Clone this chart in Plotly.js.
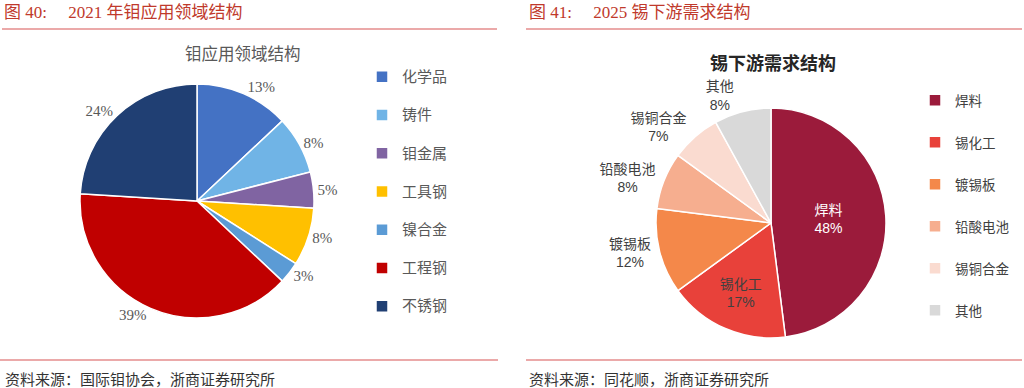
<!DOCTYPE html>
<html>
<head>
<meta charset="utf-8">
<script src="https://cdn.plot.ly/plotly-3.0.1.min.js"></script>
<style>html,body{margin:0;padding:0;background:#fff;}#chart{width:1024px;height:388px;}</style>
</head>
<body>
<div id="chart"></div>
<script>
// ---- Data: left chart (钼应用领域结构, 2021) ----
const moCategories = ['化学品', '铸件', '钼金属', '工具钢', '镍合金', '工程钢', '不锈钢'];
const moValues = [13, 8, 5, 8, 3, 39, 24];
const moColors = ['#4472C4', '#70B4E6', '#8064A2', '#FFC000', '#5B9BD5', '#C00000', '#203F73'];

// ---- Data: right chart (锡下游需求结构, 2025) ----
const snCategories = ['焊料', '锡化工', '镀锡板', '铅酸电池', '锡铜合金', '其他'];
const snValues = [48, 17, 12, 8, 7, 8];
const snColors = ['#9B1B3B', '#E8413A', '#F4884A', '#F6AE8F', '#FADBD0', '#D9D9D9'];
// label placement per slice (main layer / separate label layer for the last slice)
const snTextPos = ['inside', 'inside', 'outside', 'outside', 'outside', 'none'];
const snTextPosTop = ['none', 'none', 'none', 'none', 'none', 'outside'];

// ---- Text ----
const nb = n => '\u00a0'.repeat(n);
const leftHeader = '图 40:' + nb(5) + '2021 年钼应用领域结构';
const rightHeader = '图 41:' + nb(5) + '2025 锡下游需求结构';
const leftTitle = '钼应用领域结构';
const rightTitle = '锡下游需求结构';
const leftSource = '资料来源：国际钼协会，浙商证券研究所';
const rightSource = '资料来源：同花顺，浙商证券研究所';

const W = 1024, H = 388;
const px = x => x / W;
const py = y => 1 - y / H;

const cjk = '"Noto Sans CJK SC"';
const serif = '"Liberation Serif", "Noto Sans CJK SC", serif';
const sans = '"Liberation Sans", "Noto Sans CJK SC", sans-serif';
const red = '#C0392B';
const lineRed = '#E58C8C';

const moTrace = {
  type: 'pie',
  labels: moCategories.map(c => '<span style="font-size:15px">' + c + '</span><br> '),
  values: moValues,
  sort: false,
  direction: 'clockwise',
  rotation: 0,
  marker: {colors: moColors, line: {color: '#ffffff', width: 1.5}},
  texttemplate: '%{value}%',
  textposition: 'outside',
  outsidetextfont: {family: serif, size: 15, color: '#595959'},
  domain: {x: [px(80), px(314)], y: [py(318), py(84)]},
  legend: 'legend',
  hoverinfo: 'none'
};

const snDomain = {x: [px(656), px(886)], y: [py(338), py(108)]};

const snTrace = {
  type: 'pie',
  labels: snCategories.map(c => '<span style="font-size:13.5px">' + c + '</span><br> '),
  customdata: snCategories,
  values: snValues,
  sort: false,
  direction: 'clockwise',
  rotation: 0,
  marker: {colors: snColors, line: {color: '#ffffff', width: 1.5}},
  texttemplate: '%{customdata}<br>%{value}%',
  textposition: snTextPos,
  insidetextorientation: 'horizontal',
  insidetextfont: {family: sans, size: 14, color: ['#ffffff', '#404040', '#404040', '#404040', '#404040', '#404040']},
  outsidetextfont: {family: sans, size: 14, color: '#404040'},
  domain: snDomain,
  legend: 'legend2',
  hoverinfo: 'none'
};

// separate label layer so the last outside label keeps its natural place
const snLabelTrace = {
  type: 'pie',
  labels: snCategories,
  customdata: snCategories,
  values: snValues,
  sort: false,
  direction: 'clockwise',
  rotation: 0,
  marker: {colors: snColors.map(() => 'rgba(0,0,0,0)'), line: {width: 0}},
  texttemplate: '%{customdata}<br>%{value}%',
  textposition: snTextPosTop,
  outsidetextfont: {family: sans, size: 14, color: '#404040'},
  domain: snDomain,
  showlegend: false,
  hoverinfo: 'none'
};

const hline = (x0, x1, y) => ({
  type: 'line', xref: 'paper', yref: 'paper',
  x0: px(x0), x1: px(x1), y0: py(y), y1: py(y),
  line: {color: lineRed, width: 1.5}
});

const layout = {
  width: W, height: H,
  margin: {l: 0, r: 0, t: 0, b: 0},
  paper_bgcolor: '#ffffff',
  showlegend: true,
  legend: {
    x: px(362), y: py(61.5), xanchor: 'left', yanchor: 'top',
    font: {family: cjk, size: 13.55, color: '#595959'},
    valign: 'top', bgcolor: 'rgba(0,0,0,0)', itemclick: false
  },
  legend2: {
    x: px(915), y: py(84), xanchor: 'left', yanchor: 'top',
    font: {family: cjk, size: 15, color: '#404040'},
    valign: 'top', bgcolor: 'rgba(0,0,0,0)', itemclick: false
  },
  shapes: [
    hline(2, 497, 29), hline(526, 1022, 29),
    hline(0, 498, 360), hline(526, 1022, 360)
  ],
  annotations: [
    {text: leftHeader, x: px(2), y: py(13), xref: 'paper', yref: 'paper', xanchor: 'left', yanchor: 'middle', showarrow: false,
     font: {family: serif, size: 17, color: red}},
    {text: rightHeader, x: px(527), y: py(13), xref: 'paper', yref: 'paper', xanchor: 'left', yanchor: 'middle', showarrow: false,
     font: {family: serif, size: 17, color: red}},
    {text: leftTitle, x: px(243), y: py(53), xref: 'paper', yref: 'paper', xanchor: 'center', yanchor: 'middle', showarrow: false,
     font: {family: cjk, size: 16.5, color: '#595959'}},
    {text: '<b>' + rightTitle + '</b>', x: px(773), y: py(62), xref: 'paper', yref: 'paper', xanchor: 'center', yanchor: 'middle', showarrow: false,
     font: {family: cjk, size: 18, color: '#262626'}},
    {text: leftSource, x: px(3), y: py(378), xref: 'paper', yref: 'paper', xanchor: 'left', yanchor: 'middle', showarrow: false,
     font: {family: cjk, size: 15, color: '#333333'}},
    {text: rightSource, x: px(527), y: py(378), xref: 'paper', yref: 'paper', xanchor: 'left', yanchor: 'middle', showarrow: false,
     font: {family: cjk, size: 15, color: '#333333'}}
  ]
};

Plotly.newPlot('chart', [moTrace, snTrace, snLabelTrace], layout, {staticPlot: true, displayModeBar: false});
</script>
</body>
</html>
